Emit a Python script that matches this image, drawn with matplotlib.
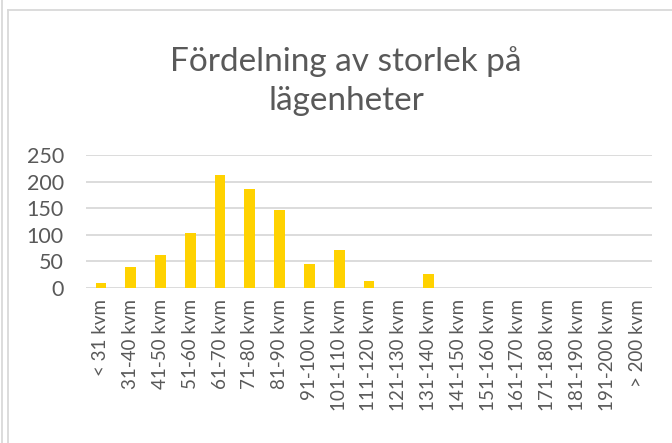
import matplotlib
matplotlib.use("Agg")
import matplotlib.pyplot as plt
from matplotlib.lines import Line2D

# data
categories = ["< 31 kvm", "31-40 kvm", "41-50 kvm", "51-60 kvm", "61-70 kvm",
              "71-80 kvm", "81-90 kvm", "91-100 kvm", "101-110 kvm", "111-120 kvm",
              "121-130 kvm", "131-140 kvm", "141-150 kvm", "151-160 kvm", "161-170 kvm",
              "171-180 kvm", "181-190 kvm", "191-200 kvm", "> 200 kvm"]
counts = [10, 39, 62, 104, 213, 186, 147, 45, 71, 13, 0, 26, 0, 0, 0, 0, 0, 0, 0]
yticks = [0, 50, 100, 150, 200, 250]

plt.rcParams['font.family'] = ['Lato', 'DejaVu Sans']

W, H = 672, 443
fig = plt.figure(figsize=(W / 100, H / 100), dpi=100)
ax = fig.add_axes([86 / W, 1 - 288 / H, (652 - 86) / W, (288 - 155) / H])

x = range(len(categories))
ax.bar(x, counts, width=0.36, color="#FFD200", zorder=3)

ax.set_xlim(-0.5, len(categories) - 0.5)
ax.set_ylim(0, 250)
ax.set_yticks(yticks)
ax.set_yticklabels([str(v) for v in yticks], fontsize=15.5, color="#595959")
ax.set_xticks(list(x))
ax.set_xticklabels(categories, rotation=90, fontsize=13.5, color="#595959")
ax.tick_params(axis='both', length=0)
ax.tick_params(axis='x', pad=8)
ax.tick_params(axis='y', pad=16)
ax.grid(axis='y', color="#D9D9D9", linewidth=1.3, zorder=0)
for s in ax.spines.values():
    s.set_visible(False)

fig.text(346 / W, 1 - 81 / H, "Fördelning av storlek på\nlägenheter", ha='center', va='center',
         fontsize=24, color="#595959", linespacing=1.4)

# chart frame pieces visible in the screenshot
fig.add_artist(Line2D([8 / W, 1], [1 - 10 / H, 1 - 10 / H], color="#D9D9D9", lw=1.3))
fig.add_artist(Line2D([8 / W, 8 / W], [0, 1 - 10 / H], color="#D9D9D9", lw=1.3))
fig.add_artist(Line2D([2 / W, 2 / W], [0, 1], color="#D9D9D9", lw=1.3))

fig.savefig("out.png", dpi=100)
